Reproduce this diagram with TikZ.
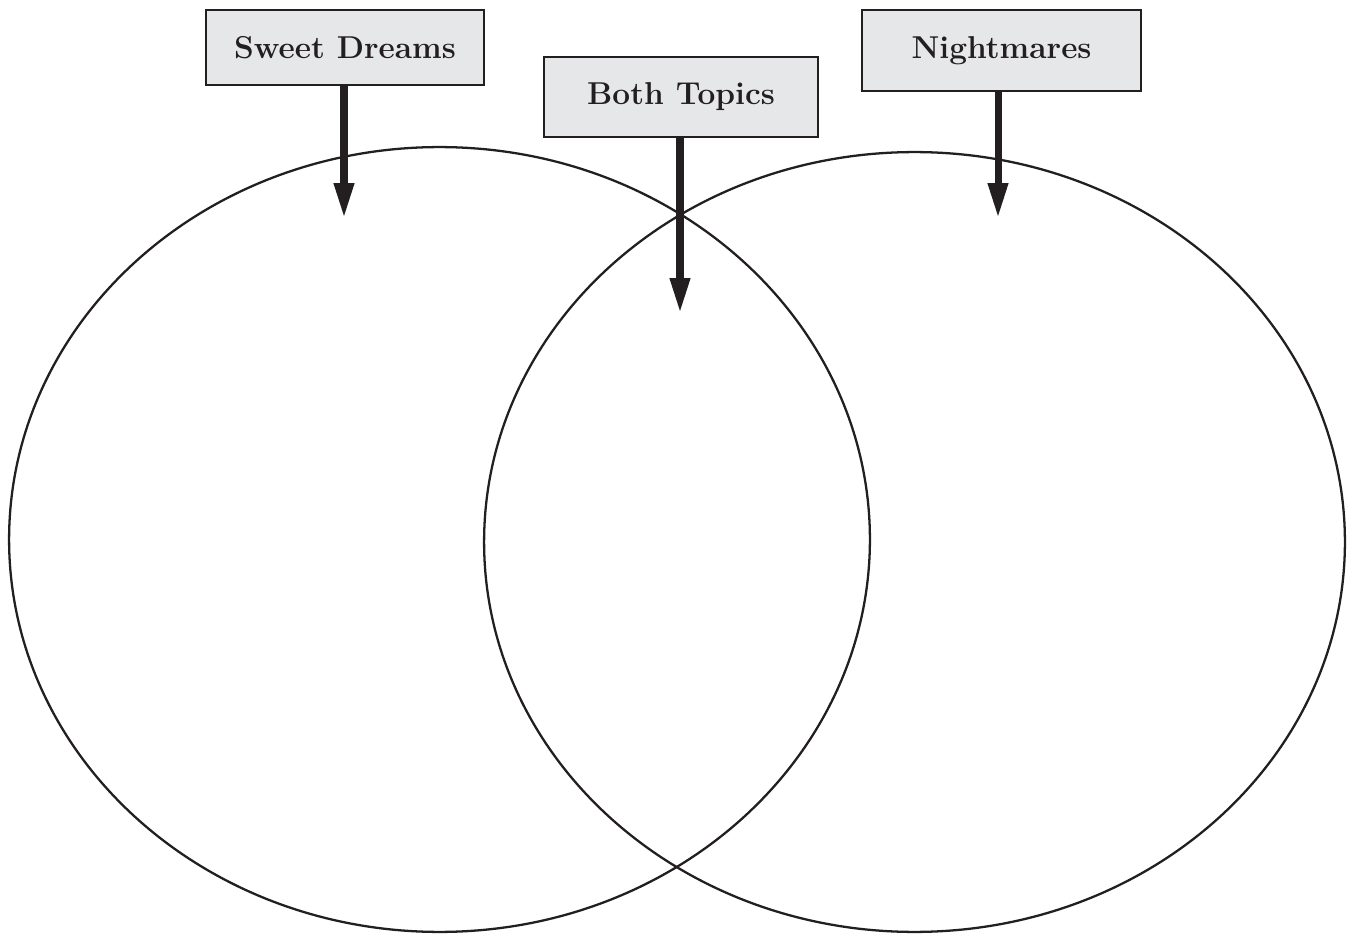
\documentclass[tikz,border=0pt]{standalone}
\usepackage{xcolor}
\usepackage{tikz}
\usetikzlibrary{arrows.meta}
\definecolor{boxgray}{HTML}{E6E7E9}
\definecolor{ink}{HTML}{231F20}

\begin{document}
\begin{tikzpicture}[x=0.02cm,y=-0.02cm,>={Triangle[length=0.7cm,width=0.38cm]}]
  \tikzstyle{topic}=[draw=ink,line width=1.2pt,fill=boxgray,inner sep=0pt,
    font=\fontsize{18}{20}\selectfont\bfseries,text=ink]
  \tikzstyle{pointer}=[->,draw=ink,line width=4pt]
  \tikzstyle{ring}=[draw=ink,line width=1.3pt]
  \useasboundingbox (0,0) rectangle (1348,935);
  % the two sets
  \draw[ring] (439.5,539.5) ellipse [x radius=8.61cm,y radius=7.85cm];
  \draw[ring] (914.5,542) ellipse [x radius=8.61cm,y radius=7.80cm];
  % labels
  \node[topic,minimum width=5.56cm,minimum height=1.5cm] (dreams) at (345,47.5) {Sweet Dreams};
  \node[topic,minimum width=5.48cm,minimum height=1.6cm] (both) at (681,97) {Both Topics};
  \node[topic,minimum width=5.58cm,minimum height=1.62cm] (night) at (1001.5,50.5) {Nightmares};
  \coordinate (dreamsTip) at (344,218);
  \coordinate (bothTip) at (680,313);
  \coordinate (nightTip) at (998,218);
  \draw[pointer] (dreams.south -| dreamsTip) -- (dreamsTip);
  \draw[pointer] (both.south -| bothTip) -- (bothTip);
  \draw[pointer] (night.south -| nightTip) -- (nightTip);
\end{tikzpicture}
\end{document}
